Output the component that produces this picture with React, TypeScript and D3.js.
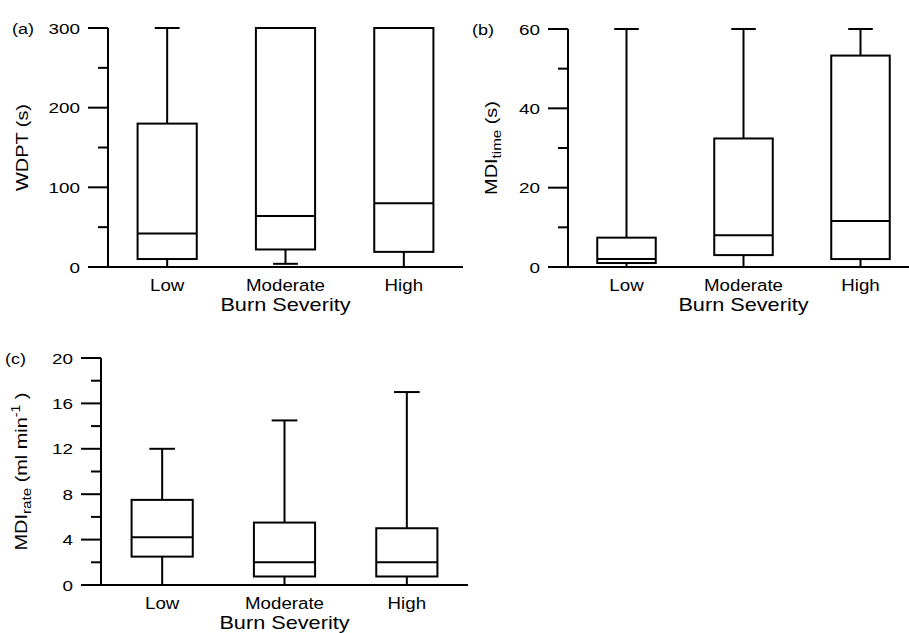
import React from 'react'
import * as d3 from 'd3'

/* data */
const categories = ['Low', 'Moderate', 'High']

const wdptMin = [0, 4, 0]
const wdptQ1 = [10, 22, 19]
const wdptMedian = [42, 64, 80]
const wdptQ3 = [180, 300, 300]
const wdptMax = [300, 300, 300]

const timeMin = [0, 0, 0]
const timeQ1 = [1, 3, 2]
const timeMedian = [2, 8, 11.6]
const timeQ3 = [7.4, 32.4, 53.3]
const timeMax = [60, 60, 60]

const rateMin = [0, 0, 0]
const rateQ1 = [2.5, 0.75, 0.75]
const rateMedian = [4.2, 2, 2]
const rateQ3 = [7.5, 5.5, 5]
const rateMax = [12, 14.5, 17]

const wdptTicks = [0, 100, 200, 300]
const timeTicks = [0, 20, 40, 60]
const rateTicks = [0, 4, 8, 12, 16, 20]

const FONT = '"Liberation Sans", Arial, Helvetica, sans-serif'

type TxtProps = {
  x: number
  y: number
  sx?: number
  rot?: number
  anchor?: string
  size: number
  children: React.ReactNode
}

// stretched text, the original figure uses a wide sans font
const Txt = ({ x, y, sx = 1.2, rot = 0, anchor = 'start', size, children }: TxtProps) => (
  <text
    transform={`translate(${x},${y}) rotate(${rot}) scale(${sx},1)`}
    textAnchor={anchor}
    fontSize={size}
    fontFamily={FONT}
    fill="#000"
  >
    {children}
  </text>
)

type PanelProps = {
  tag: string
  x0: number
  x1: number
  yTop: number
  yBot: number
  max: number
  ticks: number[]
  minorStep: number
  mins: number[]
  q1s: number[]
  medians: number[]
  q3s: number[]
  maxs: number[]
  yTitle: React.ReactNode
  yTitleX: number
}

const Panel = (p: PanelProps) => {
  const x = d3.scalePoint<string>().domain(categories).range([p.x0, p.x1]).padding(0.5)
  const y = d3.scaleLinear().domain([0, p.max]).range([p.yBot, p.yTop])
  const step = x.step()
  const boxW = step * 0.5
  const capW = step * 0.21
  const minor = d3.range(0, p.max + 0.0001, p.minorStep).filter(v => !p.ticks.includes(v))
  const midX = (p.x0 + p.x1) / 2
  const midY = (p.yTop + p.yBot) / 2

  return (
    <g>
      {/* boxes */}
      {categories.map((c, i) => {
        const cx = x(c) as number
        return (
          <g key={c} stroke="#000" strokeWidth={2} fill="none">
            <line x1={cx} x2={cx} y1={y(p.q3s[i])} y2={y(p.maxs[i])} />
            <line x1={cx} x2={cx} y1={y(p.q1s[i])} y2={y(p.mins[i])} />
            <line x1={cx - capW / 2} x2={cx + capW / 2} y1={y(p.maxs[i])} y2={y(p.maxs[i])} />
            <line x1={cx - capW / 2} x2={cx + capW / 2} y1={y(p.mins[i])} y2={y(p.mins[i])} />
            <rect x={cx - boxW / 2} width={boxW} y={y(p.q3s[i])} height={y(p.q1s[i]) - y(p.q3s[i])} fill="#fff" />
            <line x1={cx - boxW / 2} x2={cx + boxW / 2} y1={y(p.medians[i])} y2={y(p.medians[i])} />
          </g>
        )
      })}

      {/* axes */}
      <g stroke="#000" strokeWidth={2}>
        <line x1={p.x0} x2={p.x1} y1={p.yBot} y2={p.yBot} />
        <line x1={p.x0} x2={p.x0} y1={p.yTop} y2={p.yBot} />
        {p.ticks.map(t => (
          <line key={t} x1={p.x0 - 20} x2={p.x0} y1={y(t)} y2={y(t)} />
        ))}
        {minor.map(t => (
          <line key={t} x1={p.x0 - 10} x2={p.x0} y1={y(t)} y2={y(t)} />
        ))}
      </g>
      {p.ticks.map(t => (
        <Txt key={t} x={p.x0 - 28} y={y(t) + 5.5} anchor="end" size={15} sx={1.26}>
          {t}
        </Txt>
      ))}
      {categories.map(c => (
        <Txt key={c} x={x(c) as number} y={p.yBot + 23.5} anchor="middle" size={17} sx={1.1}>
          {c}
        </Txt>
      ))}
      <Txt x={midX} y={p.yBot + 44} anchor="middle" size={17.5} sx={1.24}>
        Burn Severity
      </Txt>
      <Txt x={p.x0 - 96} y={p.yTop + 5.5} size={15} sx={1.2}>
        {p.tag}
      </Txt>
      <Txt x={p.yTitleX} y={midY} rot={-90} anchor="middle" size={17} sx={1.17}>
        {p.yTitle}
      </Txt>
    </g>
  )
}

export default function App() {
  return (
    <svg width={909} height={633} style={{ position: 'absolute', left: 0, top: 0, background: '#fff' }}>
      <rect width={909} height={633} fill="#fff" />
      <Panel
        tag="(a)"
        x0={108}
        x1={463}
        yTop={28}
        yBot={267}
        max={300}
        ticks={wdptTicks}
        minorStep={50}
        mins={wdptMin}
        q1s={wdptQ1}
        medians={wdptMedian}
        q3s={wdptQ3}
        maxs={wdptMax}
        yTitle="WDPT (s)"
        yTitleX={27.5}
      />
      <Panel
        tag="(b)"
        x0={568}
        x1={919}
        yTop={29}
        yBot={267}
        max={60}
        ticks={timeTicks}
        minorStep={10}
        mins={timeMin}
        q1s={timeQ1}
        medians={timeMedian}
        q3s={timeQ3}
        maxs={timeMax}
        yTitle={
          <>
            MDI
            <tspan fontSize={13} dy={4}>time</tspan>
            <tspan dy={-4}> (s)</tspan>
          </>
        }
        yTitleX={497}
      />
      <Panel
        tag="(c)"
        x0={101}
        x1={468}
        yTop={358}
        yBot={585}
        max={20}
        ticks={rateTicks}
        minorStep={2}
        mins={rateMin}
        q1s={rateQ1}
        medians={rateMedian}
        q3s={rateQ3}
        maxs={rateMax}
        yTitle={
          <>
            MDI
            <tspan fontSize={13} dy={4}>rate</tspan>
            <tspan dy={-4}> (ml min</tspan>
            <tspan fontSize={12} dy={-7}>-1</tspan>
            <tspan dy={7}> )</tspan>
          </>
        }
        yTitleX={26.7}
      />
    </svg>
  )
}
